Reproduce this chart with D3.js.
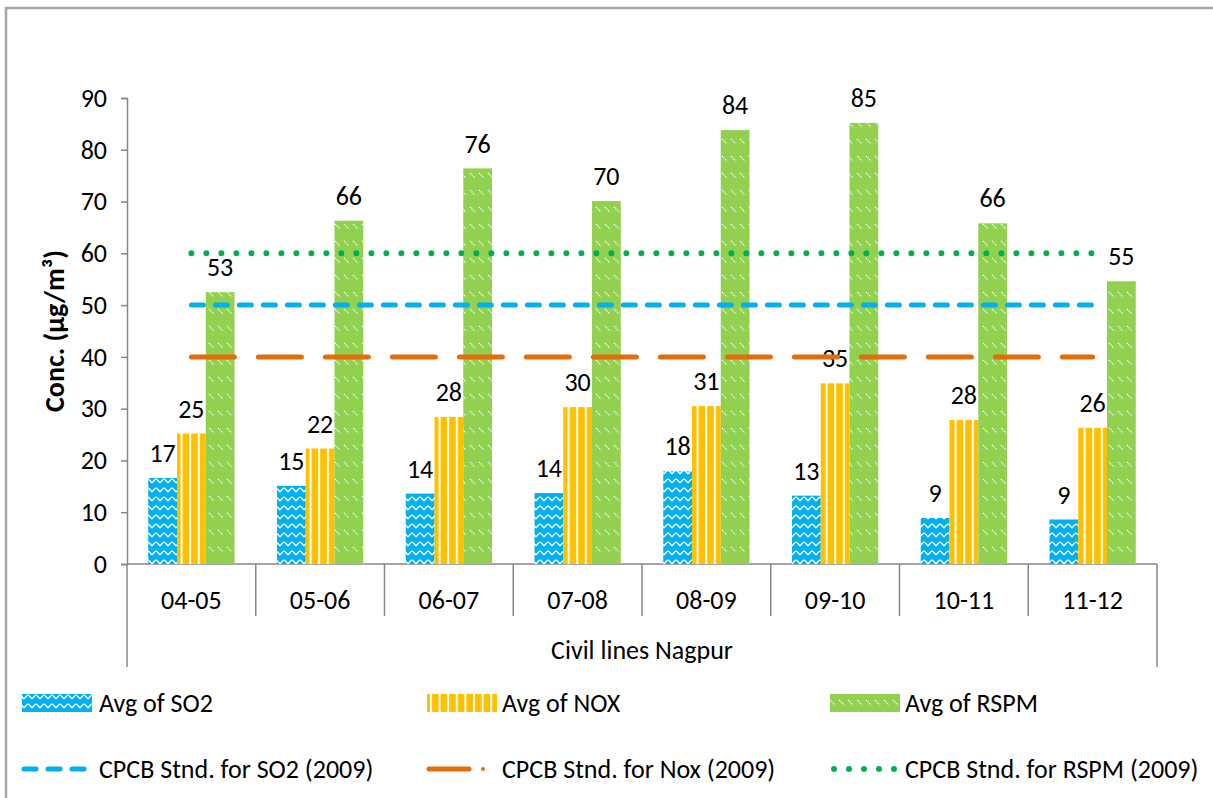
<!DOCTYPE html>
<html><head><meta charset="utf-8">
<script src="https://cdn.jsdelivr.net/npm/d3@7"></script>
<style>
html,body{margin:0;padding:0;background:#fff;}
svg text{font-family:Carlito,Lato,"Open Sans",sans-serif;fill:#000;}
</style></head>
<body>
<svg id="chart" width="1213" height="798"></svg>
<script>
const categories = ["04-05","05-06","06-07","07-08","08-09","09-10","10-11","11-12"];
const so2  = [16.6, 15.1, 13.6, 13.7, 17.9, 13.2, 8.9, 8.6];
const nox  = [25.2, 22.3, 28.4, 30.3, 30.5, 34.9, 27.8, 26.3];
const rspm = [52.5, 66.3, 76.4, 70.1, 83.8, 85.2, 65.8, 54.6];
const stdSO2  = [50,50,50,50,50,50,50,50];
const stdNOX  = [40,40,40,40,40,40,40,40];
const stdRSPM = [60,60,60,60,60,60,60,60];
const yTicks = [0,10,20,30,40,50,60,70,80,90];
const barSeries = ["Avg of SO2","Avg of NOX","Avg of RSPM"];
const lineSeries = ["CPCB Stnd. for SO2 (2009)","CPCB Stnd. for Nox (2009)","CPCB Stnd. for RSPM (2009)"];
const xTitle = "Civil lines Nagpur";
const yTitle = "Conc. (µg/m³)";

const svg = d3.select("#chart");
const FS = 26;
const axisColor = "#868686";

// patterns
const defs = svg.append("defs");
const pSO2 = defs.append("pattern").attr("id","pSO2").attr("patternUnits","userSpaceOnUse").attr("width",8).attr("height",9);
pSO2.append("rect").attr("width",8).attr("height",9).attr("fill","#00B0F0");
pSO2.append("path").attr("d","M0,6 L2,3.5 L4,2 L6,3.5 L8,6").attr("fill","none").attr("stroke","#fff").attr("stroke-width",1.3);
const pNOX = defs.append("pattern").attr("id","pNOX").attr("patternUnits","userSpaceOnUse").attr("width",8.6).attr("height",10);
pNOX.append("rect").attr("width",8.6).attr("height",10).attr("fill","#FFC000");
pNOX.append("rect").attr("x",0).attr("width",2).attr("height",10).attr("fill","#fff");
const pRSPM = defs.append("pattern").attr("id","pRSPM").attr("patternUnits","userSpaceOnUse").attr("width",9).attr("height",17);
pRSPM.append("rect").attr("width",9).attr("height",17).attr("fill","#92D050");
pRSPM.append("path").attr("d","M2,3 L7,8").attr("stroke","#fff").attr("stroke-width",1.3).attr("stroke-dasharray","1.2,1");

// frame
svg.append("rect").attr("x",6).attr("y",8).attr("width",1240).attr("height",830)
  .attr("fill","none").attr("stroke","#a6a6a6").attr("stroke-width",2.5);

const plotL = 127, plotR = 1157, plotT = 98, plotB = 564;
const y = d3.scaleLinear().domain([0,90]).range([plotB, plotT]);
const x0 = d3.scaleBand().domain(categories).range([plotL, plotR]).paddingInner(0).paddingOuter(0);
const bw = x0.bandwidth();
const x1 = d3.scaleBand().domain(barSeries).range([bw*0.165, bw*0.835]).padding(0);

// y axis
const yAxis = d3.axisLeft(y).tickValues(yTicks).tickSize(6).tickPadding(14).tickFormat(d3.format("d"));
const gy = svg.append("g").attr("transform",`translate(${plotL},0)`).call(yAxis);
gy.selectAll("path,line").attr("stroke",axisColor).attr("stroke-width",1.5);
gy.selectAll("text").attr("font-size",FS).attr("font-family","Carlito,Lato,sans-serif").attr("fill","#000");

// x axis
svg.append("line").attr("x1",plotL).attr("x2",plotR).attr("y1",plotB).attr("y2",plotB).attr("stroke",axisColor).attr("stroke-width",1.5);
const sepXs = categories.map(c=>x0(c)).concat([plotR]);
svg.selectAll("line.sep").data(sepXs).enter().append("line").attr("class","sep")
  .attr("x1",d=>d).attr("x2",d=>d).attr("y1",plotB)
  .attr("y2",(d,i)=> (i===0||i===sepXs.length-1) ? 667 : 616)
  .attr("stroke",axisColor).attr("stroke-width",1.5);
svg.selectAll("text.cat").data(categories).enter().append("text").attr("class","cat")
  .attr("x",d=>x0(d)+bw/2).attr("y",600).attr("dy","0.35em").attr("text-anchor","middle")
  .attr("font-size",FS).text(d=>d);
svg.append("text").attr("x",(plotL+plotR)/2).attr("y",650).attr("dy","0.35em").attr("text-anchor","middle")
  .attr("font-size",FS).text(xTitle);
svg.append("text").attr("transform",`translate(54,${(plotT+plotB)/2}) rotate(-90)`).attr("dy","0.35em")
  .attr("text-anchor","middle").attr("font-size",28).attr("font-weight","bold").text(yTitle);

// bars
const barData = [so2, nox, rspm];
const fills = ["url(#pSO2)","url(#pNOX)","url(#pRSPM)"];
barData.forEach((vals, si) => {
  const g = svg.append("g");
  g.selectAll("rect").data(vals).enter().append("rect")
    .attr("x",(d,i)=>x0(categories[i]) + x1(barSeries[si]))
    .attr("width",x1.bandwidth())
    .attr("y",d=>y(d)).attr("height",d=>plotB - y(d))
    .attr("fill",fills[si]);
  g.selectAll("text").data(vals).enter().append("text")
    .attr("x",(d,i)=>x0(categories[i]) + x1(barSeries[si]) + x1.bandwidth()/2)
    .attr("y",d=>y(d) - 25).attr("dy","0.35em").attr("text-anchor","middle")
    .attr("font-size",FS).text(d=>Math.round(d));
});

// standard lines
const lineStyles = [
  {data:stdSO2, color:"#00B0F0", width:5, dash:"12,12"},
  {data:stdNOX, color:"#E46C0A", width:5, dash:"43,24"},
  {data:stdRSPM, color:"#00B050", width:6, dash:"0,15"}
];
const lineGen = d3.line().x((d,i)=>x0(categories[i]) + bw/2).y(d=>y(d));
lineStyles.forEach(s=>{
  svg.append("path").datum(s.data).attr("d",lineGen).attr("fill","none")
    .attr("stroke",s.color).attr("stroke-width",s.width).attr("stroke-linecap","round")
    .attr("stroke-dasharray",s.dash);
});

// legend
const legX = [22, 427, 830];
const textX = [99, 502, 905];
const row1 = 703, row2 = 769;
barSeries.forEach((name,i)=>{
  svg.append("rect").attr("x",legX[i]).attr("y",row1-9).attr("width",70).attr("height",18).attr("fill",fills[i]);
  svg.append("text").attr("x",textX[i]).attr("y",row1).attr("dy","0.35em").attr("font-size",FS).text(name);
});
// line legend items
svg.append("line").attr("x1",legX[0]+2).attr("x2",legX[0]+68).attr("y1",row2).attr("y2",row2)
  .attr("stroke","#00B0F0").attr("stroke-width",5).attr("stroke-linecap","round").attr("stroke-dasharray","12,12");
svg.append("line").attr("x1",legX[1]+2).attr("x2",legX[1]+42).attr("y1",row2).attr("y2",row2)
  .attr("stroke","#E46C0A").attr("stroke-width",5).attr("stroke-linecap","round");
svg.append("circle").attr("cx",legX[1]+56).attr("cy",row2).attr("r",2)
  .attr("fill","#E46C0A");
svg.append("line").attr("x1",legX[2]+4).attr("x2",legX[2]+66).attr("y1",row2).attr("y2",row2)
  .attr("stroke","#00B050").attr("stroke-width",6).attr("stroke-linecap","round").attr("stroke-dasharray","0,15");
lineSeries.forEach((name,i)=>{
  svg.append("text").attr("x",textX[i]).attr("y",row2).attr("dy","0.35em").attr("font-size",FS).text(name);
});
</script>
</body></html>
